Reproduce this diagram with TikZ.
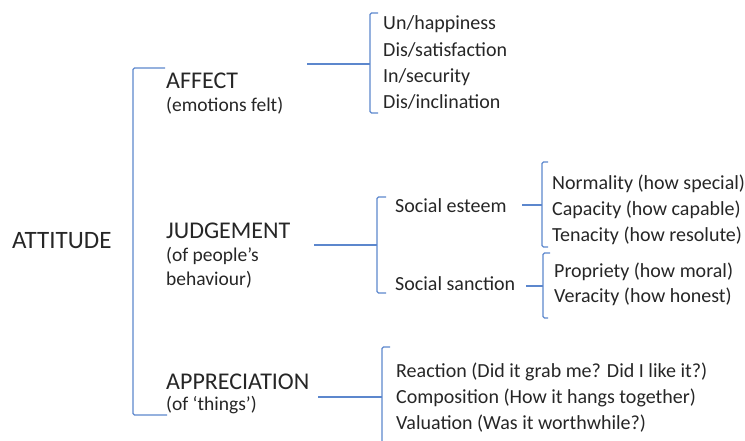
\documentclass[tikz,border=0pt]{standalone}
\usepackage{fontspec}
\setmainfont{Carlito}
\definecolor{brkblue}{RGB}{92,135,205}
\definecolor{txt}{RGB}{38,38,38}
\tikzset{
  brk/.style={draw=brkblue, line width=1.3pt, rounded corners=1.5pt},
  conn/.style={draw=brkblue, line width=1.3pt},
  head/.style={anchor=base west, inner sep=0pt, text=txt, font=\fontsize{24}{28}\selectfont},
  subt/.style={anchor=base west, inner sep=0pt, text=txt, font=\fontsize{19.5}{23}\selectfont},
  item/.style={anchor=base west, inner sep=0pt, text=txt, font=\fontsize{20}{24}\selectfont},
}
\begin{document}
\begin{tikzpicture}[x=1pt, y=-1pt]
\useasboundingbox (0,0) rectangle (745,440);
% headings
\node[head, font=\fontsize{25}{29}\selectfont] (att) at (12,248) {ATTITUDE};
\node[head] (aff) at (166,88) {AFFECT};
\node[subt] (affs) at (166,111) {(emotions felt)};
\node[head] (jud) at (166,238) {JUDGEMENT};
\node[subt] (juds1) at (166,261) {(of people’s};
\node[subt] (juds2) at (166,285) {behaviour)};
\node[head] (app) at (166,389) {APPRECIATION};
\node[subt] (apps) at (166,410) {(of ‘things’)};
% affect items
\node[item] (a1) at (383,29) {Un/happiness};
\node[item] (a2) at (383,56) {Dis/satisfaction};
\node[item] (a3) at (383,82) {In/security};
\node[item] (a4) at (383,108) {Dis/inclination};
% judgement
\node[item] (se) at (395,212) {Social esteem};
\node[item] (ss) at (395,290) {Social sanction};
\node[item] (n1) at (552,189) {Normality (how special)};
\node[item] (n2) at (552,215) {Capacity (how capable)};
\node[item] (n3) at (552,241) {Tenacity (how resolute)};
\node[item] (p1) at (554,277) {Propriety (how moral)};
\node[item] (p2) at (554,302) {Veracity (how honest)};
% appreciation
\node[item] (r1) at (396,377) {Reaction (Did it grab me? Did I like it?)};
\node[item] (r2) at (396,403) {Composition (How it hangs together)};
\node[item] (r3) at (396,429) {Valuation (Was it worthwhile?)};
% main bracket
\coordinate (mT) at (165,68);
\coordinate (mB) at (167,415);
\draw[brk] (mT) -- (133,68) -- (133,415) -- (mB);
% affect bracket
\coordinate (afS) at (307,64);
\coordinate (afM) at (370,64);
\draw[conn] (afS) -- (afM);
\draw[brk] (378,13) -- (370,13) -- (370,113) -- (378,113);
% judgement bracket
\coordinate (jS) at (314,245);
\coordinate (jM) at (377,245);
\draw[conn] (jS) -- (jM);
\draw[brk] (386,197) -- (377,197) -- (377,293) -- (386,293);
% esteem bracket
\coordinate (eS) at (522,205);
\coordinate (eM) at (542,205);
\draw[conn] (eS) -- (eM);
\draw[brk] (548,162) -- (542,162) -- (542,247) -- (548,247);
% sanction bracket
\coordinate (sS) at (526,286);
\coordinate (sM) at (543,286);
\draw[conn] (sS) -- (sM);
\draw[brk] (550,253) -- (543,253) -- (543,318) -- (548,318);
% appreciation bracket
\coordinate (pS) at (318,397);
\coordinate (pM) at (382,397);
\draw[conn] (pS) -- (pM);
\draw[brk] (390,347) -- (382,347) -- (382,441);
\end{tikzpicture}
\end{document}
